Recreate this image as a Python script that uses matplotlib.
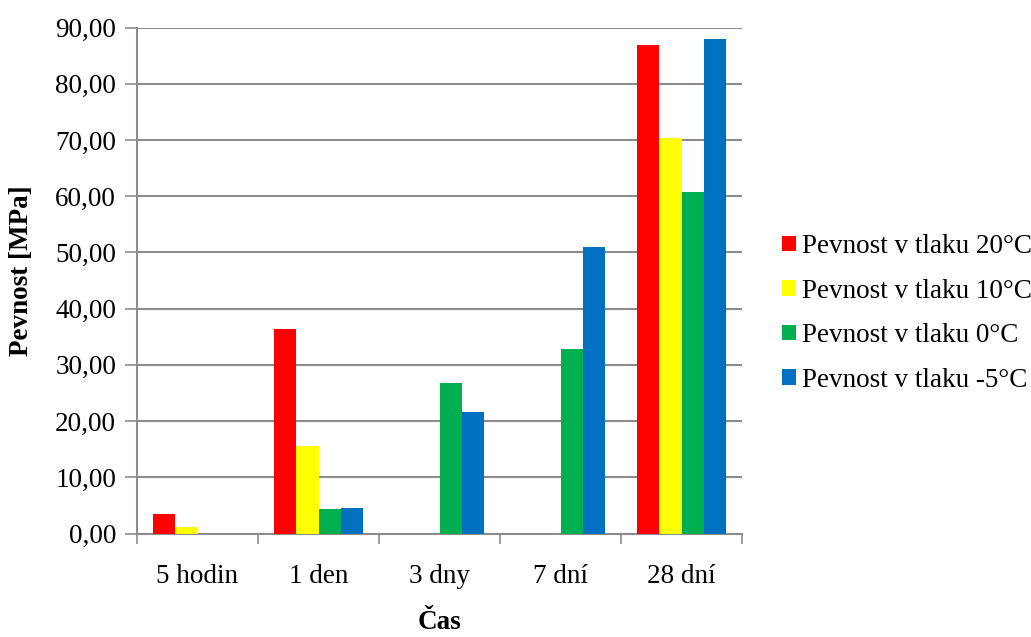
import numpy as np
import matplotlib.pyplot as plt
from matplotlib.ticker import FuncFormatter

# data
kategorie = ['5 hodin', '1 den', '3 dny', '7 dní', '28 dní']
serie = ['Pevnost v tlaku 20°C', 'Pevnost v tlaku 10°C',
         'Pevnost v tlaku 0°C', 'Pevnost v tlaku -5°C']
p20 = [3.5, 36.4, np.nan, np.nan, 86.9]
p10 = [1.2, 15.6, np.nan, np.nan, 70.4]
p0 = [np.nan, 4.4, 26.8, 32.8, 60.7]
p_5 = [np.nan, 4.6, 21.6, 50.9, 88.0]
barvy = ['#ff0000', '#ffff00', '#00b050', '#0070c0']

plt.rcParams['font.family'] = ['Liberation Serif', 'DejaVu Serif']
fs = 19.5

fig = plt.figure(figsize=(10.31, 6.37), dpi=100)
ax = fig.add_axes([137 / 1031, 103.5 / 637, 605 / 1031, 505.8 / 637])

x = np.arange(len(kategorie))
sirka = 0.184
for i, (hodnoty, barva, nazev) in enumerate(zip([p20, p10, p0, p_5], barvy, serie)):
    ax.bar(x + (i - 1.5) * sirka, hodnoty, width=sirka, color=barva,
           label=nazev, zorder=3)

ax.set_xlim(-0.5, len(kategorie) - 0.5)
ax.set_ylim(0, 90)
ax.set_yticks(np.arange(0, 91, 10))
ax.yaxis.set_major_formatter(FuncFormatter(lambda v, p: f'{v:.2f}'.replace('.', ',')))

# labels centred, tick marks on category boundaries
ax.set_xticks(x)
ax.set_xticklabels(kategorie)
ax.set_xticks(np.arange(-0.5, len(kategorie)), minor=True)
ax.tick_params(axis='x', which='major', length=0, pad=22, labelsize=fs)
ax.tick_params(axis='x', which='minor', length=7, width=1.2, color='#8c8c8c')
ax.tick_params(axis='y', length=9, width=1.2, color='#8c8c8c', labelsize=fs, pad=6)

ax.grid(axis='y', color='#8c8c8c', linewidth=1.5, zorder=0)
ax.set_axisbelow(True)
for s in ['top', 'right']:
    ax.spines[s].set_visible(False)
for s in ['left', 'bottom']:
    ax.spines[s].set_color('#8c8c8c')
    ax.spines[s].set_linewidth(1.5)

ax.set_ylabel('Pevnost [MPa]', fontsize=fs, fontweight='bold')
ax.yaxis.set_label_coords(-0.170, 0.52)
ax.set_xlabel('Čas', fontsize=fs, fontweight='bold')
ax.xaxis.set_label_coords(0.5, -0.152)

ax.legend(loc='center left', bbox_to_anchor=(1.026, 0.435), frameon=False,
          fontsize=fs, handlelength=0.5, handleheight=0.5, handletextpad=0.22,
          labelspacing=0.72)

fig.savefig('out.png', dpi=100)
